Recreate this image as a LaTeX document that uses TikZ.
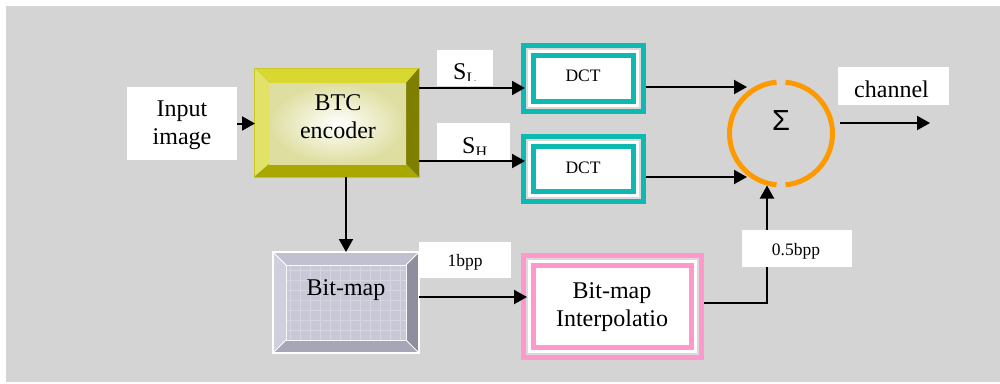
\documentclass[tikz,border=0pt]{standalone}
\usepackage{fontspec}
\setmainfont{Liberation Serif}
\newfontfamily\sumfont{Liberation Sans}
\usetikzlibrary{arrows.meta}
\definecolor{bggray}{HTML}{D4D4D4}
\definecolor{teal1}{HTML}{10B8B2}
\definecolor{pink1}{HTML}{FF99CC}
\definecolor{band}{HTML}{DADADA}
\definecolor{orng}{HTML}{FF9900}
\definecolor{ytop}{HTML}{D8D830}
\definecolor{yleft}{HTML}{E2E268}
\definecolor{ybot}{HTML}{A8A800}
\definecolor{yright}{HTML}{7E7E00}
\definecolor{yline}{HTML}{C8C820}
\definecolor{yin}{HTML}{DEDEA0}
\definecolor{btop}{HTML}{C0C0D0}
\definecolor{bleft}{HTML}{CFCFDD}
\definecolor{bbot}{HTML}{A6A6B6}
\definecolor{bright}{HTML}{8E8E9E}
\definecolor{bin}{HTML}{C8C8D6}
\definecolor{bgrid}{HTML}{D6D6E2}
\tikzset{
  box/.style={inner sep=0pt, outer sep=0pt},
  lbl/.style={box, fill=white},
  wire/.style={line width=2pt, draw=black},
  arr/.style={wire, -{Triangle[length=13pt,width=14pt]}},
  big/.style={font=\fontsize{24}{28}\selectfont, inner sep=0pt},
  small/.style={font=\fontsize{17.5}{20}\selectfont, inner sep=0pt},
}
\begin{document}
\begin{tikzpicture}[x=1pt,y=-1pt]
\useasboundingbox (0,0) rectangle (1000,383);
\fill[white] (0,0) rectangle (1000,383);
\fill[bggray] (6,6) rectangle (1000,382);

% ---- node frames
\node[lbl, minimum width=110pt, minimum height=73pt] (input) at (182,123.5) {};
\node[box, minimum width=165pt, minimum height=109pt] (btc) at (336.5,122.5) {};
\node[box, minimum width=125pt, minimum height=71pt] (dct1) at (583.5,78.5) {};
\node[box, minimum width=125pt, minimum height=70pt] (dct2) at (583.5,169) {};
\node[box, circle, minimum size=108pt] (sum) at (781,133.5) {};
\node[box, minimum width=146pt, minimum height=101pt] (bitmap) at (346,302.5) {};
\node[box, minimum width=183pt, minimum height=107pt] (interp) at (612.5,306.5) {};
\coordinate (out) at (930,123);

% ---- BTC encoder bevel
\fill[ytop] (254,68) -- (419,68) -- (406,83) -- (269,83) -- cycle;
\fill[yleft] (254,68) -- (269,83) -- (269,164) -- (254,177) -- cycle;
\fill[ybot] (254,177) -- (269,164) -- (406,164) -- (419,177) -- cycle;
\fill[yright] (419,68) -- (406,83) -- (406,164) -- (419,177) -- cycle;
\shade[inner color=white, outer color=yin] (269,83) rectangle (406,164);
\draw[yline, line width=1pt] (btc.north west) rectangle (btc.south east);

% ---- DCT boxes
\foreach \n in {dct1,dct2}{
  \fill[teal1] (\n.north west) rectangle (\n.south east);
  \fill[band] ([xshift=5pt,yshift=-5pt]\n.north west) rectangle ([xshift=-5pt,yshift=5pt]\n.south east);
  \fill[white] ([xshift=7pt,yshift=-7pt]\n.north west) rectangle ([xshift=-7pt,yshift=7pt]\n.south east);
  \fill[teal1] ([xshift=10pt,yshift=-10pt]\n.north west) rectangle ([xshift=-10pt,yshift=10pt]\n.south east);
  \fill[white] ([xshift=15pt,yshift=-15pt]\n.north west) rectangle ([xshift=-15pt,yshift=15pt]\n.south east);
}

% ---- interpolation box
\fill[pink1] (interp.north west) rectangle (interp.south east);
\fill[band] ([xshift=5pt,yshift=-5pt]interp.north west) rectangle ([xshift=-5pt,yshift=5pt]interp.south east);
\fill[white] ([xshift=7pt,yshift=-7pt]interp.north west) rectangle ([xshift=-7pt,yshift=7pt]interp.south east);
\fill[pink1] ([xshift=10pt,yshift=-10pt]interp.north west) rectangle ([xshift=-10pt,yshift=10pt]interp.south east);
\fill[white] ([xshift=15pt,yshift=-15pt]interp.north west) rectangle ([xshift=-15pt,yshift=15pt]interp.south east);

% ---- Bit-map bevel
\fill[btop] (273,252) -- (419,252) -- (406,265) -- (286,265) -- cycle;
\fill[bleft] (273,252) -- (286,265) -- (286,340) -- (273,353) -- cycle;
\fill[bbot] (273,353) -- (286,340) -- (406,340) -- (419,353) -- cycle;
\fill[bright] (419,252) -- (406,265) -- (406,340) -- (419,353) -- cycle;
\fill[bin] (286,265) rectangle (406,340);
\draw[bgrid, line width=0.6pt, step=10pt] (286,265) grid (406,340);
\draw[white, line width=1pt] (273,252) -- (286,265) (419,252) -- (406,265)
  (273,353) -- (286,340) (419,353) -- (406,340);
\draw[white!85!bin, line width=0.8pt] (286,265) rectangle (406,340);
\draw[white, line width=1.5pt] (bitmap.north west) rectangle (bitmap.south east);

% ---- summation circle
\draw[orng, line width=5pt] (781,133.5) ++(95:51.5) arc[start angle=95, end angle=265, radius=51.5];
\draw[orng, line width=5pt] (781,133.5) ++(-85:51.5) arc[start angle=-85, end angle=85, radius=51.5];

% ---- connectors
\draw[arr] (input.east) -- ([xshift=1pt]input.east -| btc.west);
\draw[arr] (btc.east |- 0,88) -- ([xshift=4pt]dct1.west |- 0,88);
\draw[arr] (btc.east |- 0,161) -- ([xshift=4pt]dct2.west |- 0,161);
\draw[arr] (dct1.east |- 0,87) -- ([xshift=20pt]sum.west |- 0,87);
\draw[arr] (dct2.east |- 0,177) -- ([xshift=20pt]sum.west |- 0,177);
\draw[arr] (bitmap.north |- btc.south) -- (bitmap.north);
\draw[arr] ([yshift=5.5pt]bitmap.east) -- ([xshift=6pt]interp.west |- 0,297);
\draw[arr] (interp.east |- 0,303) -| ([xshift=-14pt,yshift=2pt]sum.south);
\draw[arr] ([xshift=5pt]sum.east |- out) -- (out);

% ---- label boxes
\node[lbl, minimum width=56pt, minimum height=36pt] (sl) at (465,68) {};
\node[lbl, minimum width=73pt, minimum height=37pt] (sh) at (473.5,141.5) {};
\node[lbl, minimum width=111pt, minimum height=38pt] (chan) at (893.5,86) {};
\node[lbl, minimum width=110pt, minimum height=37pt] (half) at (797,248.5) {};
\node[lbl, minimum width=92pt, minimum height=36pt] (one) at (465,260) {};

% ---- texts
\node[big, align=center, anchor=north] (inputtxt) at (182,101) {Input\\image};
\node[big, align=center, anchor=north] (btctxt) at (338,94) {BTC\\encoder};
\begin{scope}
\clip (sl.north west) rectangle (sl.east |- 0,80);
\node[big, anchor=base west] (sltxt) at (453,79) {S\raisebox{-4.6pt}{\fontsize{16}{16}\selectfont L}};
\end{scope}
\begin{scope}
\clip (sh.north west) rectangle (sh.east |- 0,154);
\node[big, anchor=base west] (shtxt) at (462,153) {S\raisebox{-4.6pt}{\fontsize{16}{16}\selectfont H}};
\end{scope}
\node[small, anchor=base] (dct1txt) at (583,81) {DCT};
\node[small, anchor=base] (dct2txt) at (583,173) {DCT};
\node[inner sep=0pt, font=\sumfont\fontsize{29}{30}\selectfont] (sumtxt) at (781,121) {Σ};
\node[big, anchor=base] (chantxt) at (891.5,97) {channel};
\node[small, anchor=base] (onetxt) at (465,266) {1bpp};
\node[small, anchor=base] (halftxt) at (796,255) {0.5bpp};
\node[big, anchor=base] (bitmaptxt) at (346,295) {Bit-map};
\node[big, align=center, anchor=north] (interptxt) at (612,282) {Bit-map\\Interpolatio};
\end{tikzpicture}
\end{document}
